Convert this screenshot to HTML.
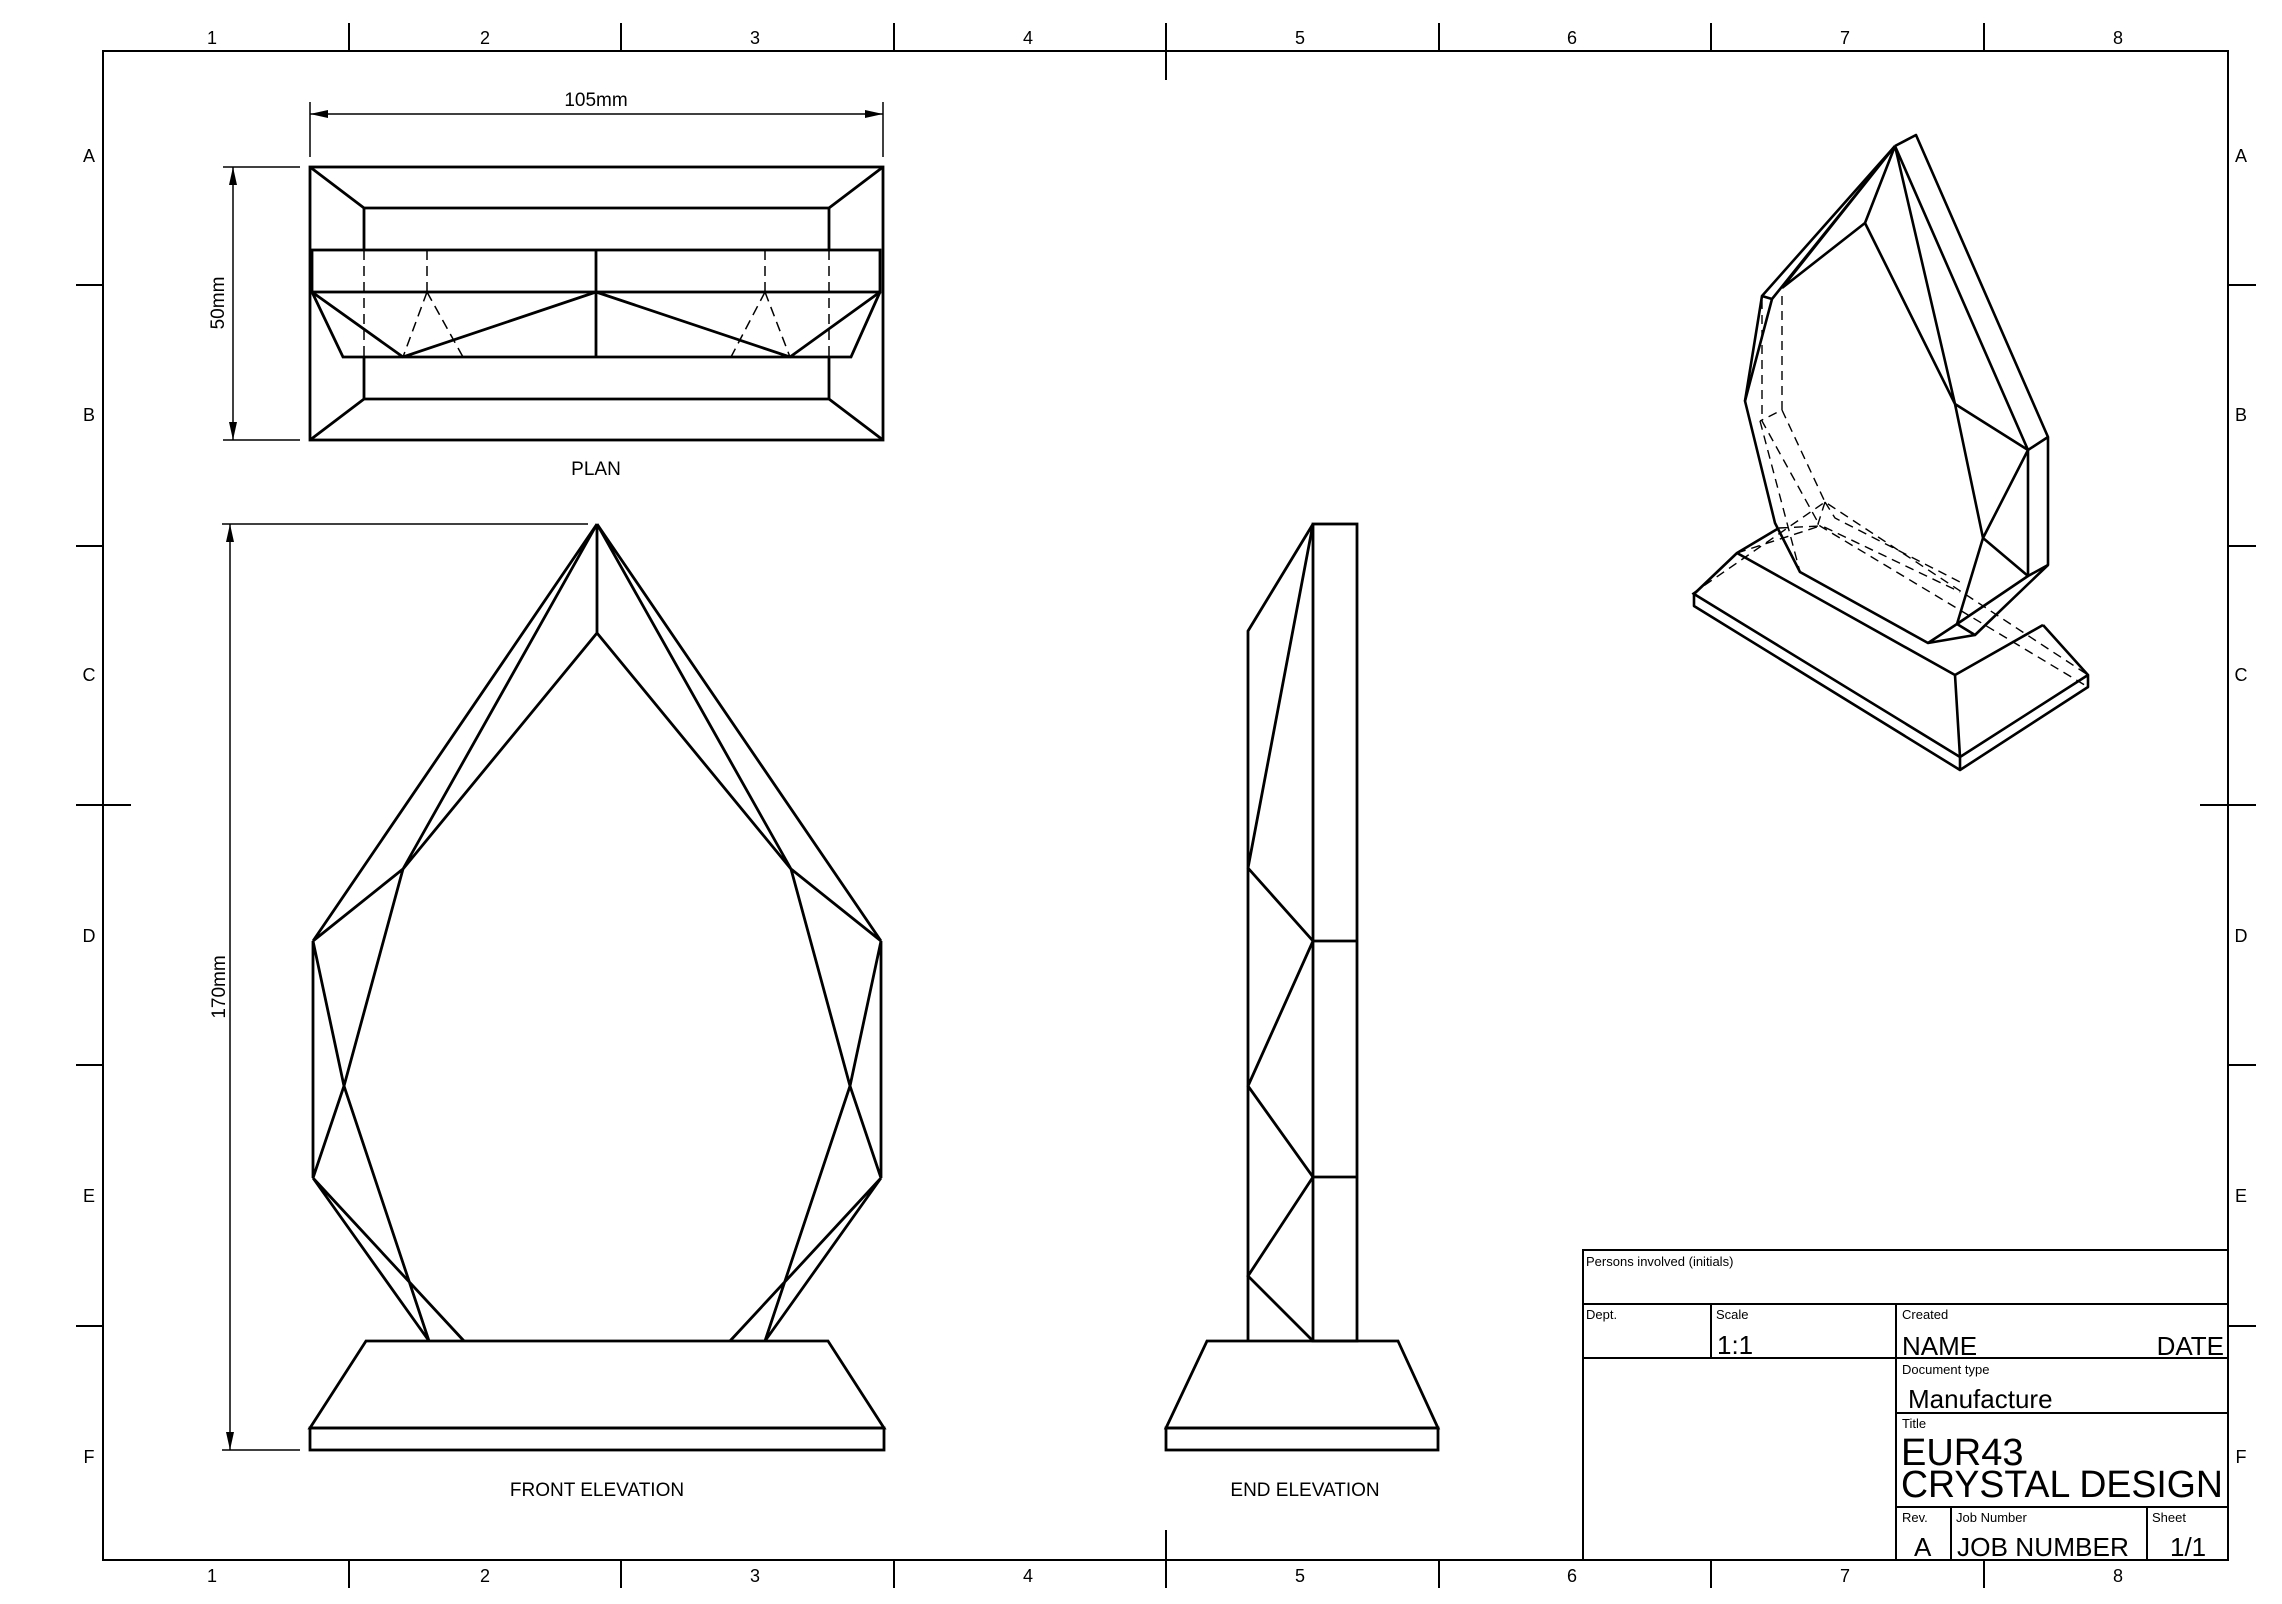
<!DOCTYPE html>
<html><head><meta charset="utf-8"><style>
html,body{margin:0;padding:0;background:#fff}
svg{display:block}
text{font-family:"Liberation Sans",Arial,sans-serif;fill:#000}
</style></head><body>
<svg xmlns="http://www.w3.org/2000/svg" width="2282" height="1604" viewBox="0 0 2282 1604">
<rect width="2282" height="1604" fill="#fff"/>
<g stroke="#000" stroke-width="2" fill="none">
<rect x="103" y="51" width="2125" height="1509"/>
<path d="M349 23V51M621 23V51M894 23V51M1166 23V80M1439 23V51M1711 23V51M1984 23V51
M349 1560V1588M621 1560V1588M894 1560V1588M1166 1530V1588M1439 1560V1588M1711 1560V1588M1984 1560V1588
M76 285H103M76 546H103M76 805H131M76 1065H103M76 1326H103
M2228 285H2256M2228 546H2256M2200 805H2256M2228 1065H2256M2228 1326H2256"/>
</g>
<g font-size="18" text-anchor="middle">
<text x="212" y="44">1</text><text x="485" y="44">2</text><text x="755" y="44">3</text><text x="1028" y="44">4</text><text x="1300" y="44">5</text><text x="1572" y="44">6</text><text x="1845" y="44">7</text><text x="2118" y="44">8</text>
<text x="212" y="1582">1</text><text x="485" y="1582">2</text><text x="755" y="1582">3</text><text x="1028" y="1582">4</text><text x="1300" y="1582">5</text><text x="1572" y="1582">6</text><text x="1845" y="1582">7</text><text x="2118" y="1582">8</text>
<text x="89" y="162">A</text><text x="89" y="421">B</text><text x="89" y="681">C</text><text x="89" y="942">D</text><text x="89" y="1202">E</text><text x="89" y="1463">F</text>
<text x="2241" y="162">A</text><text x="2241" y="421">B</text><text x="2241" y="681">C</text><text x="2241" y="942">D</text><text x="2241" y="1202">E</text><text x="2241" y="1463">F</text>
</g>

<!-- PLAN -->
<g stroke="#000" stroke-width="1.5" fill="none">
<path d="M310 102V157M883 102V157M310 114H883M223 167H300M223 440H300M233 167V440"/>
</g>
<g fill="#000">
<polygon points="310,114 328,110 328,118"/><polygon points="883,114 865,110 865,118"/>
<polygon points="233,167 229,185 237,185"/><polygon points="233,440 229,422 237,422"/>
</g>
<g stroke="#000" stroke-width="2.8" fill="none">
<rect x="310" y="167" width="573" height="273"/>
<path d="M310 167L364 208H829L883 167M310 440L364 399H829L883 440"/>
<path d="M364 208V250M829 208V250M364 357V399M829 357V399"/>
<rect x="312" y="250" width="568" height="42"/>
<path d="M596 250V357M312 292L343 357H851L880 292M312 292L403 357L596 292L790 357L880 292"/>
</g>
<g stroke="#000" stroke-width="1.5" fill="none" stroke-dasharray="10,6">
<path d="M364 250V357M829 250V357M427 250V292M765 250V292M427 292L403 357M427 292L463 357M765 292L790 357M765 292L731 357"/>
</g>
<text x="596" y="106" font-size="19" text-anchor="middle">105mm</text>
<text x="0" y="0" font-size="19" text-anchor="middle" transform="translate(224,303) rotate(-90)">50mm</text>
<text x="596" y="475" font-size="19" text-anchor="middle">PLAN</text>

<!-- FRONT ELEVATION -->
<g stroke="#000" stroke-width="1.5" fill="none">
<path d="M222 524H588M222 1450H300M230 524V1450"/>
</g>
<g fill="#000">
<polygon points="230,524 226,542 234,542"/><polygon points="230,1450 226,1432 234,1432"/>
</g>
<text x="0" y="0" font-size="19" text-anchor="middle" transform="translate(225,987) rotate(-90)">170mm</text>
<g stroke="#000" stroke-width="2.8" fill="none">
<path d="M597 524V633M597 524L313 941M597 524L403 869M597 633L403 869L313 941M313 941V1178
M403 869L344 1086L313 1178M313 941L344 1086L429 1341M313 1178L429 1341M313 1178L464 1341
M597 524L881 941M597 524L791 869M597 633L791 869L881 941M881 941V1178
M791 869L850 1086L881 1178M881 941L850 1086L765 1341M881 1178L765 1341M881 1178L730 1341"/>
<path d="M366 1341H828L884 1428H310Z"/>
<rect x="310" y="1428" width="574" height="22"/>
</g>
<text x="597" y="1496" font-size="19" text-anchor="middle">FRONT ELEVATION</text>

<!-- END ELEVATION -->
<g stroke="#000" stroke-width="2.8" fill="none">
<rect x="1313" y="524" width="44" height="817"/>
<path d="M1313 941H1357M1313 1177H1357"/>
<path d="M1313 524L1248 631V1341M1313 524L1248 868L1313 941L1248 1086L1313 1177L1248 1276L1313 1341"/>
<path d="M1207 1341H1398L1438 1428H1166Z"/>
<rect x="1166" y="1428" width="272" height="22"/>
</g>
<text x="1305" y="1496" font-size="19" text-anchor="middle">END ELEVATION</text>

<!-- ISOMETRIC -->
<g stroke="#000" stroke-width="1.4" fill="none" stroke-dasharray="9,6">
<path d="M1782 296V410L1760 421M1782 410L1825 502L2088 675M1762 300V421L1820 526L2088 687M1825 502L1818 524L1960 592
M1692 594L1825 502M1737 553L1820 526M1760 421L1800 572M1779 528L1820 526M1825 502L1835 518L1960 582"/>
</g>
<g stroke="#000" stroke-width="2.6" fill="none" stroke-linejoin="round">
<path d="M1895 146L1916 135L2048 437V565L2028 576V450L2048 437"/>
<path d="M1895 146L2028 450M1895 146L1865 223L1955 404L1895 146M1955 404L2028 450L1983 538L1955 404M1983 538L2028 576M1983 538L1957 624L2028 576"/>
<path d="M1895 146L1762 296L1745 401L1775 523L1800 572L1928 643L1957 624L1975 635L2048 565M1928 643L1975 635"/>
<path d="M1895 146L1772 299L1745 401M1762 296L1772 299M1782 288L1865 223M1895 146L1782 288"/>
<path d="M1779 528L1737 553L1955 675L2043 625M1737 553L1694 594L1960 757L2088 675L2043 625M1955 675L1960 757M1694 594V606L1960 770L2088 687V675M1960 757V770"/>
</g>

<!-- TITLE BLOCK -->
<g stroke="#000" stroke-width="2" fill="none">
<rect x="1583" y="1250" width="645" height="310"/>
<path d="M1583 1304H2228M1583 1358H2228M1896 1413H2228M1896 1507H2228M1711 1304V1358M1896 1304V1560M1951 1507V1560M2147 1507V1560"/>
</g>
<g font-size="13">
<text x="1586" y="1266">Persons involved (initials)</text>
<text x="1586" y="1319">Dept.</text><text x="1716" y="1319">Scale</text><text x="1902" y="1319">Created</text>
<text x="1902" y="1374">Document type</text><text x="1902" y="1428">Title</text>
<text x="1902" y="1522">Rev.</text><text x="1956" y="1522">Job Number</text><text x="2152" y="1522">Sheet</text>
</g>
<g font-size="26">
<text x="1717" y="1354">1:1</text><text x="1902" y="1355">NAME</text><text x="2224" y="1355" text-anchor="end">DATE</text>
<text x="1908" y="1408">Manufacture</text>
<text x="1914" y="1556">A</text><text x="1957" y="1556" textLength="172" lengthAdjust="spacingAndGlyphs">JOB NUMBER</text><text x="2170" y="1556">1/1</text>
</g>
<g font-size="38">
<text x="1901" y="1465">EUR43</text>
<text x="1901" y="1497" textLength="322" lengthAdjust="spacingAndGlyphs">CRYSTAL DESIGN</text>
</g>
</svg>
</body></html>
